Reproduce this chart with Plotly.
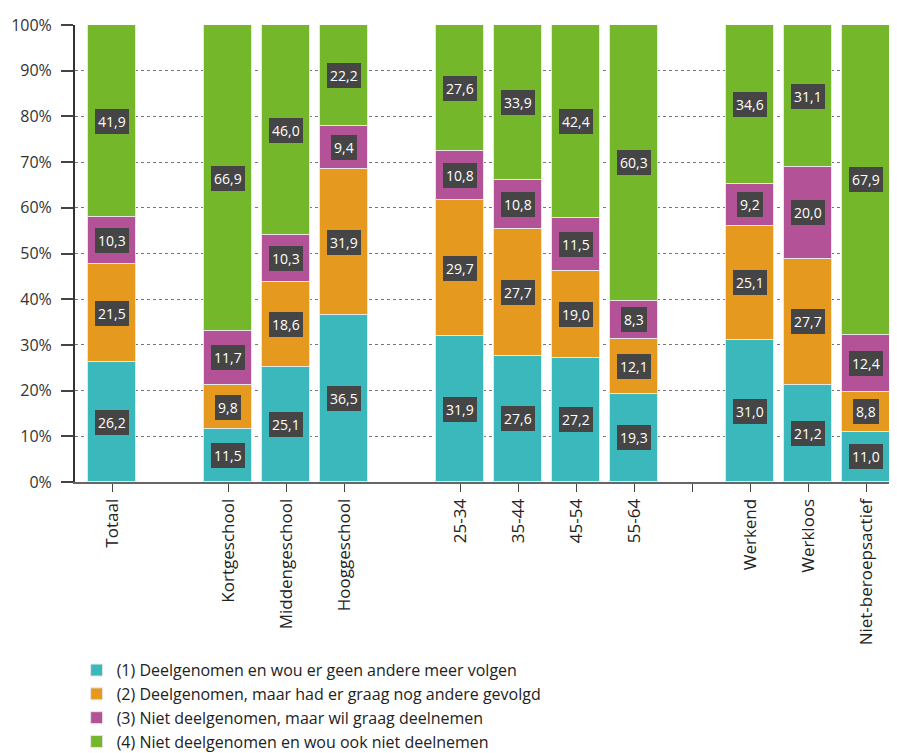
import plotly.graph_objects as go

categories = ["Totaal", "Kortgeschool", "Middengeschool", "Hooggeschool",
              "25-34", "35-44", "45-54", "55-64",
              "Werkend", "Werkloos", "Niet-beroepsactief"]
# slot positions on the axis (gaps between groups)
slots = [0, 2, 3, 4, 6, 7, 8, 9, 11, 12, 13]
group_sep = [10]

series_names = [
    "(1) Deelgenomen en wou er geen andere meer volgen",
    "(2) Deelgenomen, maar had er graag nog andere gevolgd",
    "(3) Niet deelgenomen, maar wil graag deelnemen",
    "(4) Niet deelgenomen en wou ook niet deelnemen",
]
s1 = [26.2, 11.5, 25.1, 36.5, 31.9, 27.6, 27.2, 19.3, 31.0, 21.2, 11.0]
s2 = [21.5, 9.8, 18.6, 31.9, 29.7, 27.7, 19.0, 12.1, 25.1, 27.7, 8.8]
s3 = [10.3, 11.7, 10.3, 9.4, 10.8, 10.8, 11.5, 8.3, 9.2, 20.0, 12.4]
s4 = [41.9, 66.9, 46.0, 22.2, 27.6, 33.9, 42.4, 60.3, 34.6, 31.1, 67.9]
series = [s1, s2, s3, s4]
colors = ["#3BB8BC", "#E59A1F", "#B35296", "#75B72B"]
y_ticks = list(range(0, 101, 10))
y_ticktext = [f"{v}%" for v in y_ticks]

FONT = "Open Sans"
fig = go.Figure()
for name, vals, col in zip(series_names, series, colors):
    fig.add_trace(go.Bar(
        x=slots, y=vals, name=name, width=0.83,
        marker=dict(color=col, line=dict(color="#E6E6E6", width=1)),
        textposition="none",
    ))

annotations = []
for i, xs in enumerate(slots):
    base = 0.0
    for vals in series:
        v = vals[i]
        annotations.append(dict(
            x=xs, y=base + v / 2, xref="x", yref="y",
            text=f"{v:.1f}".replace(".", ","), showarrow=False,
            font=dict(family=FONT, size=14, color="white"),
            bgcolor="#454545", bordercolor="#454545", borderpad=2,
        ))
        base += v

tickvals = slots + group_sep
ticktext = categories + [""]

fig.update_layout(
    barmode="stack",
    width=889, height=745,
    margin=dict(l=67, r=2, t=17, b=271, autoexpand=False),
    paper_bgcolor="white", plot_bgcolor="white",
    font=dict(family=FONT, size=13, color="#222"),
    bargap=0,
    annotations=annotations,
    legend=dict(
        x=0.002, y=0.134, xref="paper", yref="container",
        xanchor="left", yanchor="top",
        orientation="v", traceorder="normal",
        font=dict(family=FONT, size=16, color="#222"),
        itemwidth=30, tracegroupgap=0,
    ),
    xaxis=dict(
        range=[-0.64, 13.5], tickmode="array", tickvals=tickvals, ticktext=ticktext,
        tickangle=-90, ticks="outside", ticklen=8, tickcolor="#444",
        showline=True, linecolor="#666", linewidth=2, showgrid=False, zeroline=False,
        tickfont=dict(family=FONT, size=17, color="#222"),
    ),
    yaxis=dict(
        range=[0, 100], tickmode="array", tickvals=y_ticks, ticktext=y_ticktext,
        ticks="outside", ticklen=12, tickcolor="#444", tickwidth=2,
        ticklabelstandoff=6,
        showline=True, linecolor="#333", linewidth=2,
        showgrid=True, gridcolor="#777", griddash="dot", gridwidth=1,
        zeroline=False, tickfont=dict(family=FONT, size=16, color="#333"),
    ),
)

fig.write_html("out.html")
